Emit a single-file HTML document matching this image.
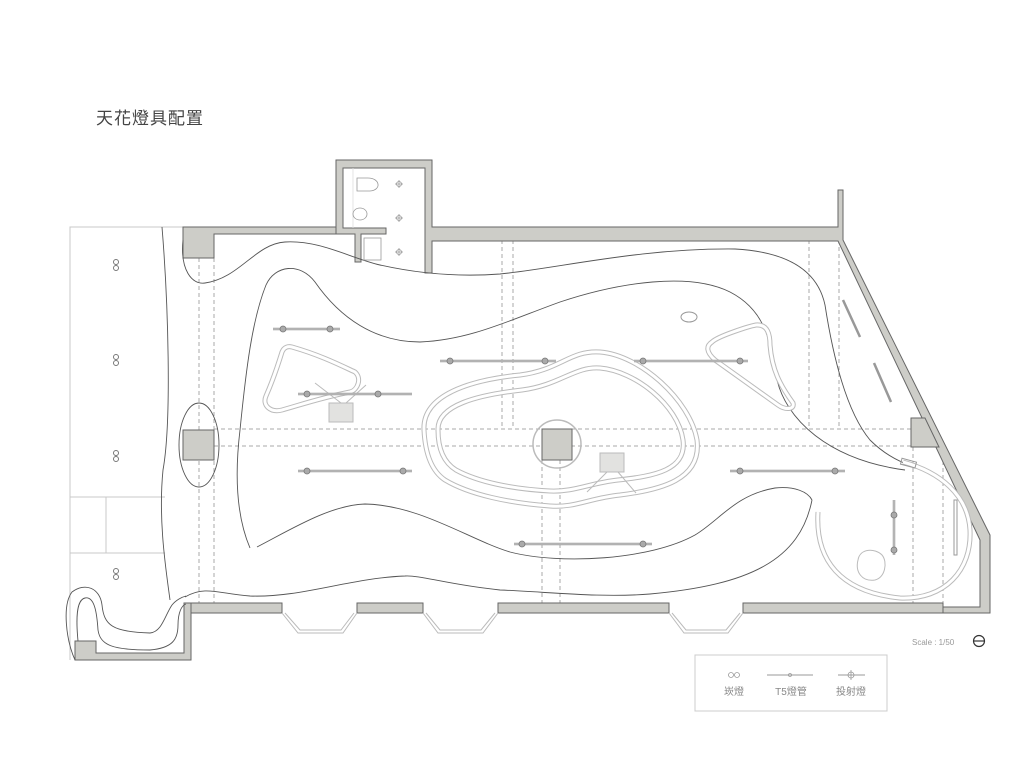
<!DOCTYPE html>
<html><head><meta charset="utf-8"><style>
html,body{margin:0;padding:0;background:#fff;}
svg{display:block;}
text{font-family:"Liberation Sans","Noto Sans CJK TC",sans-serif;}
</style></head><body>
<svg width="1024" height="768" viewBox="0 0 1024 768" xmlns="http://www.w3.org/2000/svg">
<text x="96" y="124" font-size="17" fill="#444" letter-spacing="1">天花燈具配置</text>

<!-- left area thin lines -->
<g stroke="#c8c8c8" stroke-width="1" fill="none">
<path d="M70,660 L70,227 L183,227"/>
<path d="M70,497 L165,497 M70,553 L165,553 M106,497 L106,553"/>
</g>

<!-- dashed lines -->
<g stroke="#aaa" stroke-width="1" stroke-dasharray="4,3" fill="none">
<path d="M199,258 V603 M214,258 V603"/>
<path d="M214,429 H911 M214,446 H911"/>
<path d="M502,240 V429 M513,240 V429 M809,240 V429 M839,240 V429"/>
<path d="M542,460 V603 M560,460 V603 M913,447 V603 M943,447 V603"/>
</g>

<!-- walls -->
<g fill="#cdcdc8" stroke="#666" stroke-width="1">
<!-- top-left wall + column -->
<path d="M183,227 L336,227 L336,234 L214,234 L214,258 L183,258 Z"/>
<!-- bathroom -->
<path d="M336,160 L432,160 L432,227 L838,227 L838,190 L843,190 L843,240 L990,535 L990,613 L943,613 L943,607 L980,607 L980,540 L838,241 L432,241 L432,273 L425,273 L425,168 L343,168 L343,228 L386,228 L386,234 L361,234 L361,262 L355,262 L355,234 L336,234 Z"/>
<!-- bottom walls -->
<rect x="184" y="603" width="98" height="10"/>
<rect x="357" y="603" width="66" height="10"/>
<rect x="498" y="603" width="171" height="10"/>
<path d="M743,603 L943,603 L943,613 L743,613 Z"/>
<path d="M184,603 L191,603 L191,660 L75,660 L75,641 L96,641 L96,653 L184,653 Z"/>
<!-- columns -->
<rect x="183" y="430" width="31" height="30"/>
<rect x="542" y="429" width="30" height="31"/>
<path d="M911,418 L925,418 L939,447 L911,447 Z"/>
</g>
<circle cx="557" cy="444" r="24" fill="none" stroke="#bbb" stroke-width="1.5"/>

<!-- bay windows -->
<g fill="none" stroke="#bbb" stroke-width="1">
<path d="M282,613 L298,633 L343,633 L357,613 M285,613 L300,630 L341,630 L354,613"/>
<path d="M423,613 L438,633 L483,633 L498,613 M426,613 L440,630 L481,630 L495,613"/>
<path d="M669,613 L684,633 L728,633 L743,613 M672,613 L686,630 L726,630 L740,613"/>
</g>

<!-- ceiling contours -->
<g fill="none" stroke="#555" stroke-width="0.9">
<path d="M183,240 C180,270 192,285 205,283 C240,278 255,244 285,242 C320,240 350,258 380,265 C420,274 460,277 500,274 C560,268 640,248 735,249 C790,252 818,272 825,305 C832,350 845,410 870,440 C885,455 900,462 912,466"/>
<path d="M250,548 C238,520 234,480 240,430 C246,370 252,320 266,285 C275,265 300,262 315,282 C340,318 375,342 420,342 C470,340 510,320 560,302 C620,282 690,272 730,292 C765,310 770,340 776,375 C784,420 830,460 905,470"/>
<path d="M257,547 C290,530 330,505 365,504 C420,505 470,540 510,552 C560,565 650,560 695,535 C720,520 735,495 775,488 C795,486 808,492 812,500"/>
<path d="M812,500 C800,560 750,585 650,594 C600,598 550,592 500,590 C450,585 420,575 405,576 C350,578 300,598 250,596 C220,594 205,585 185,597"/>
<path d="M162,227 C168,300 172,420 163,470 C158,520 166,570 170,600"/>
<ellipse cx="199" cy="445" rx="20" ry="42"/>
<path d="M75,660 C66,640 62,605 72,592 C85,582 100,588 102,605 C104,625 112,632 150,633 C162,632 165,615 172,605 C176,600 182,597 186,596"/>
<path d="M78,641 C76,620 76,600 85,598 C95,596 97,615 98,630 C100,645 112,650 150,650 C172,648 178,640 178,625 C178,612 182,605 186,604"/>
</g>

<!-- light tracks (double lines) -->
<g fill="none">
<g stroke="#bbb" stroke-width="5"><path d="M424,430 C422,395 470,380 520,375 C560,370 570,350 600,352 C640,355 690,400 697,440 C702,480 660,490 620,495 C590,498 575,508 550,506 C510,503 470,495 445,480 C430,470 425,450 424,430Z"/>
<path d="M438,430 C437,405 478,395 522,390 C560,385 575,366 600,368 C635,371 678,405 683,440 C687,470 655,476 618,480 C590,483 575,492 550,491 C512,489 478,482 456,470 C443,462 438,447 438,430Z"/>
<path d="M292,347 C320,355 340,365 355,372 C362,378 358,390 350,392 C320,398 300,405 282,410 C270,413 262,405 266,396 C273,380 278,365 282,352 C284,347 288,346 292,347Z"/>
<path d="M712,342 C718,336 750,326 756,325 C768,324 770,335 770,345 C772,370 780,385 793,403 C795,410 785,410 778,405 L715,360 C706,352 706,346 712,342Z"/>
<path d="M818,512 C815,560 840,592 900,598 C945,600 972,570 970,530 C968,495 940,472 903,462"/>
</g>
<g stroke="#fff" stroke-width="3"><path d="M424,430 C422,395 470,380 520,375 C560,370 570,350 600,352 C640,355 690,400 697,440 C702,480 660,490 620,495 C590,498 575,508 550,506 C510,503 470,495 445,480 C430,470 425,450 424,430Z"/>
<path d="M438,430 C437,405 478,395 522,390 C560,385 575,366 600,368 C635,371 678,405 683,440 C687,470 655,476 618,480 C590,483 575,492 550,491 C512,489 478,482 456,470 C443,462 438,447 438,430Z"/>
<path d="M292,347 C320,355 340,365 355,372 C362,378 358,390 350,392 C320,398 300,405 282,410 C270,413 262,405 266,396 C273,380 278,365 282,352 C284,347 288,346 292,347Z"/>
<path d="M712,342 C718,336 750,326 756,325 C768,324 770,335 770,345 C772,370 780,385 793,403 C795,410 785,410 778,405 L715,360 C706,352 706,346 712,342Z"/>
<path d="M818,512 C815,560 840,592 900,598 C945,600 972,570 970,530 C968,495 940,472 903,462"/>
</g>
</g>
<g fill="none" stroke="#999" stroke-width="1">
<rect x="901" y="460" width="15" height="6" transform="rotate(15 908 463)"/>
<rect x="954" y="500" width="3" height="55"/>
<ellipse cx="689" cy="317" rx="8" ry="5"/>
<path d="M858,560 C860,548 875,548 882,555 C888,562 885,578 875,580 C862,582 855,572 858,560Z" stroke="#bbb"/>
</g>

<!-- projector squares -->
<g stroke="#bbb" stroke-width="1" fill="#e2e2e0">
<path d="M315,383 L341,403 M366,385 L346,403" fill="none"/>
<rect x="329" y="403" width="24" height="19"/>
<path d="M587,492 L607,472 M636,493 L618,472" fill="none"/>
<rect x="600" y="453" width="24" height="19"/>
</g>

<!-- T5 fixtures -->
<g stroke="#999" stroke-width="2.5" fill="none">
<path d="M273,329 H340 M440,361 H556 M298,394 H412 M298,471 H412 M514,544 H652 M634,361 H748 M730,471 H845 M894,500 V555 M843,300 L860,337 M874,363 L891,402"/>
</g>
<g stroke="#ddd" stroke-width="0.8" fill="none">
<path d="M273,329 H340 M440,361 H556 M298,394 H412 M298,471 H412 M514,544 H652 M634,361 H748 M730,471 H845 M894,500 V555"/>
</g>
<g fill="#aaa" stroke="#777" stroke-width="0.8">
<circle cx="283" cy="329" r="3"/><circle cx="330" cy="329" r="3"/>
<circle cx="450" cy="361" r="3"/><circle cx="545" cy="361" r="3"/>
<circle cx="307" cy="394" r="3"/><circle cx="378" cy="394" r="3"/>
<circle cx="307" cy="471" r="3"/><circle cx="403" cy="471" r="3"/>
<circle cx="522" cy="544" r="3"/><circle cx="643" cy="544" r="3"/>
<circle cx="643" cy="361" r="3"/><circle cx="740" cy="361" r="3"/>
<circle cx="740" cy="471" r="3"/><circle cx="835" cy="471" r="3"/>
<circle cx="894" cy="515" r="3"/><circle cx="894" cy="550" r="3"/>
</g>

<!-- downlights left -->
<g fill="none" stroke="#777" stroke-width="1">
<circle cx="116" cy="262" r="2.5"/><circle cx="116" cy="268" r="2.5"/>
<circle cx="116" cy="357" r="2.5"/><circle cx="116" cy="363" r="2.5"/>
<circle cx="116" cy="453" r="2.5"/><circle cx="116" cy="459" r="2.5"/>
<circle cx="116" cy="571" r="2.5"/><circle cx="116" cy="577" r="2.5"/>
</g>

<!-- bathroom fixtures -->
<g fill="none" stroke="#999" stroke-width="0.8">
<path d="M353,168 V228" stroke="#ddd"/>
<path d="M357,178 H368 C380,178 382,190 370,191 H357 Z"/>
<ellipse cx="360" cy="214" rx="7" ry="6"/>
<rect x="364" y="238" width="17" height="22"/>
<circle cx="399" cy="184" r="2.5"/><path d="M395,184 H403 M399,180 V188"/>
<circle cx="399" cy="218" r="2.5"/><path d="M395,218 H403 M399,214 V222"/>
<circle cx="399" cy="252" r="2.5"/><path d="M395,252 H403 M399,248 V256"/>
</g>

<!-- scale -->
<text x="912" y="645" font-size="8" fill="#999">Scale : 1/50</text>
<circle cx="979" cy="641" r="5.5" fill="none" stroke="#333" stroke-width="1.2"/>
<path d="M974,641 H984" stroke="#333" stroke-width="1.2"/>

<!-- legend -->
<rect x="695" y="655" width="192" height="56" fill="none" stroke="#ccc" stroke-width="1"/>
<g fill="none" stroke="#999" stroke-width="0.8">
<circle cx="731" cy="675" r="2.5"/><circle cx="737" cy="675" r="2.5"/>
<path d="M767,675 H813" stroke="#bbb" stroke-width="1.5"/>
<circle cx="790" cy="675" r="1.5"/>
<path d="M838,675 H865" stroke="#bbb" stroke-width="1.5"/>
<circle cx="851" cy="675" r="3"/><path d="M851,670 V680"/>
</g>
<g font-size="10" fill="#888" text-anchor="middle">
<text x="734" y="695">崁燈</text>
<text x="791" y="695">T5燈管</text>
<text x="851" y="695">投射燈</text>
</g>
</svg>
</body></html>
